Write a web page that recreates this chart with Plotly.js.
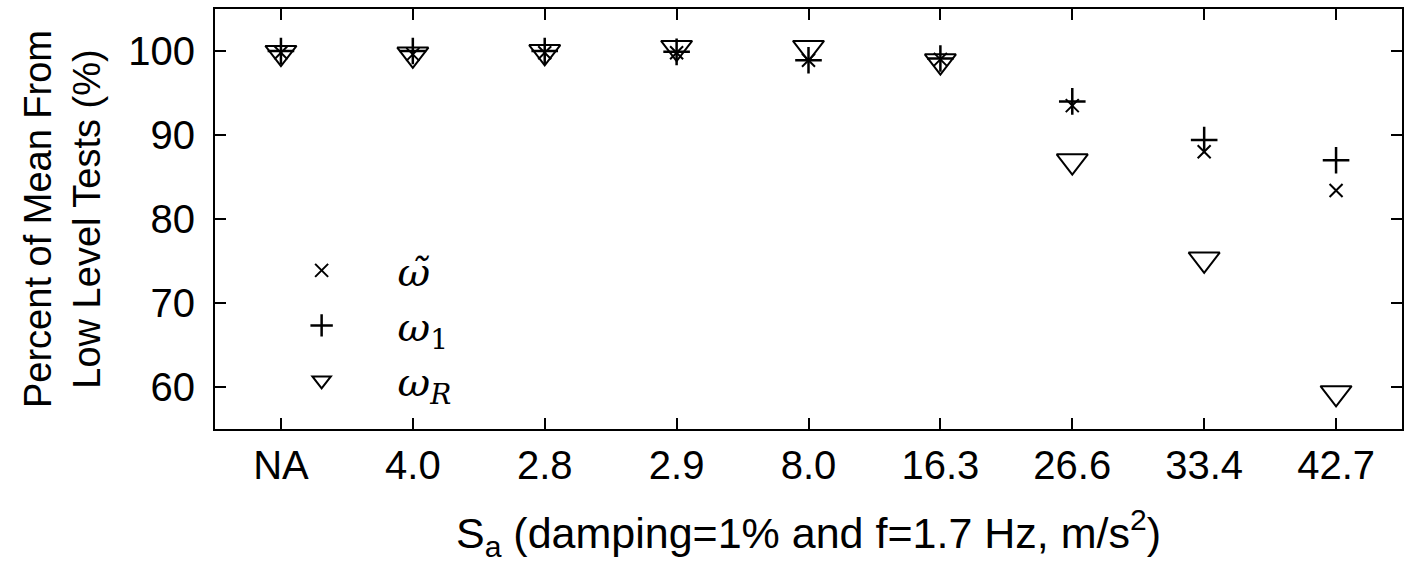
<!DOCTYPE html>
<html>
<head>
<meta charset="utf-8">
<script src="https://cdn.plot.ly/plotly-3.0.1.min.js"></script>
<style>
html,body{margin:0;padding:0;background:#fff;}
#chart{width:1412px;height:572px;}
</style>
</head>
<body>
<div id="chart"></div>
<script>
// Categories (S_a values, m/s^2)
const categories = ["NA", "4.0", "2.8", "2.9", "8.0", "16.3", "26.6", "33.4", "42.7"];
// Percent of mean from low level tests (%)
const omegaTilde = [99.8, 99.6, 99.8, 99.8, 98.9, 99.0, 93.5, 88.0, 83.4];
const omega1     = [100.0, 100.0, 100.0, 99.9, 98.9, 99.1, 94.0, 89.4, 87.0];
const omegaR     = [99.8, 99.6, 99.9, 100.4, 100.4, 98.8, 86.9, 75.2, 59.3];
const seriesNames = ["<i>ω̃</i>", "<i>ω</i><sub>1</sub>", "<i>ω</i><sub><i>R</i></sub>"];
const yTicks = [60, 70, 80, 90, 100];

const traces = [
  {x: categories, y: omegaR, name: seriesNames[2], legendgroup: "c", legendrank: 3,
   mode: "markers", type: "scatter",
   marker: {symbol: "triangle-down-open", size: 27, color: "#000", line: {color: "#000", width: 2}}},
  {x: categories, y: omegaTilde, name: seriesNames[0], legendgroup: "a", legendrank: 1,
   mode: "markers", type: "scatter",
   marker: {symbol: "x-thin-open", size: 13, color: "#000", line: {color: "#000", width: 2}}},
  {x: categories, y: omega1, name: seriesNames[1], legendgroup: "b", legendrank: 2,
   mode: "markers", type: "scatter",
   marker: {symbol: "cross-thin-open", size: 19, color: "#000", line: {color: "#000", width: 2.5}}}
];

const axisFont = {family: "Liberation Sans, Arial, sans-serif", size: 40, color: "#000"};

const layout = {
  width: 1412, height: 572,
  margin: {l: 215, r: 10, t: 9, b: 143},
  paper_bgcolor: "#fff", plot_bgcolor: "#fff",
  showlegend: true,
  legend: {
    x: 0.0258, y: 0.455, xanchor: "left", yanchor: "top",
    bgcolor: "rgba(0,0,0,0)", borderwidth: 0,
    font: {family: "DejaVu Serif, Liberation Serif, serif", size: 40, color: "#000"},
    itemwidth: 142, tracegroupgap: 0, traceorder: "grouped"
  },
  xaxis: {
    type: "category", categoryorder: "array", categoryarray: categories,
    range: [-0.5, 8.5],
    showline: true, linecolor: "#000", linewidth: 2, mirror: "ticks",
    ticks: "inside", ticklen: 11, tickwidth: 2, tickcolor: "#000",
    showgrid: false, zeroline: false,
    tickfont: axisFont, ticklabelstandoff: 0,
    title: {text: "S<sub>a</sub> (damping=1% and f=1.7 Hz, m/s<sup>2</sup>)",
            font: {family: "Liberation Sans, Arial, sans-serif", size: 43, color: "#000"}, standoff: 32}
  },
  yaxis: {
    range: [55, 105],
    tickvals: yTicks, ticktext: yTicks.map(String),
    showline: true, linecolor: "#000", linewidth: 2, mirror: "ticks",
    ticks: "inside", ticklen: 11, tickwidth: 2, tickcolor: "#000",
    showgrid: false, zeroline: false,
    tickfont: axisFont, ticklabelstandoff: 10,
    title: {text: "Percent of Mean From<br>Low Level Tests (%)",
            font: {family: "Liberation Sans, Arial, sans-serif", size: 38, color: "#000"}, standoff: 16}
  }
};

Plotly.newPlot("chart", traces, layout, {displayModeBar: false, staticPlot: true});
</script>
</body>
</html>
